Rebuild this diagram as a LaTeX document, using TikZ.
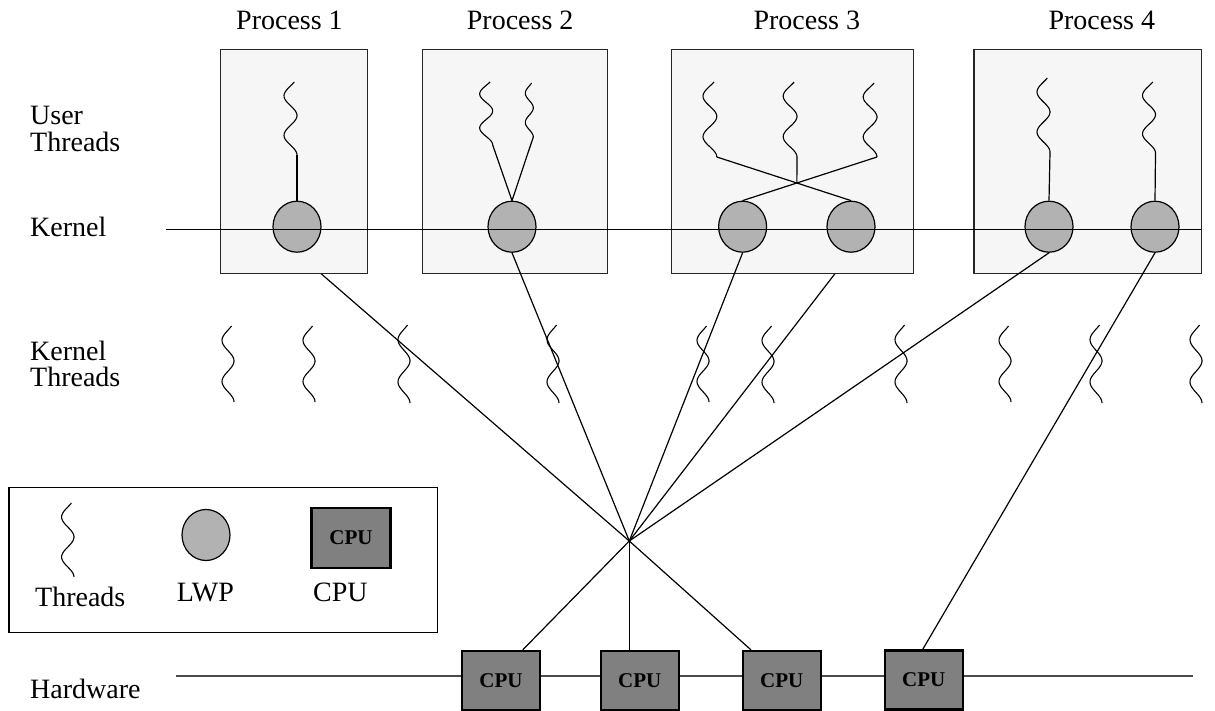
\documentclass[tikz,border=0pt]{standalone}
\usepackage{fontspec}
\setmainfont{Liberation Serif}
\usetikzlibrary{shapes.geometric,calc,intersections}
\pgfdeclarelayer{bg}
\pgfsetlayers{bg,main}
\definecolor{boxfill}{gray}{0.965}
\definecolor{lwpfill}{gray}{0.70}
\definecolor{cpufill}{gray}{0.50}
\definecolor{hwline}{gray}{0.30}
\newcommand\wthread[5]{%
  \draw[thr] plot[smooth, domain=54:720, samples=50] ({#2-#5+#5*cos(\x)},{#3+(#4-#3)*((\x-54)/666)});
  \coordinate (#1) at (#2,#4);
}
\begin{document}
\begin{tikzpicture}[x=1pt,y=-1pt,
  lbl/.style={font=\fontsize{28}{26.7}\selectfont, inner sep=0, anchor=base west, align=left},
  pbox/.style={draw=black!85, fill=boxfill, line width=1.3, inner sep=0, anchor=north west},
  lwp/.style={ellipse, draw, fill=lwpfill, line width=1.2, minimum width=48, minimum height=51, inner sep=0},
  cpu/.style={draw, line width=2.2, fill=cpufill, minimum width=78, minimum height=59, inner sep=0, font=\fontsize{21}{21}\selectfont\bfseries},
  conn/.style={line width=1.2},
  thr/.style={line width=1.1},
  legbox/.style={draw, line width=1.2, inner sep=0, anchor=north west}
]
\useasboundingbox (0,0) rectangle (1215,711);

% labels (multi-line: anchor is the baseline of the last line)
\node[lbl] (lu) at (30,151.7) {User\\Threads};
\node[lbl] (lk) at (30,236.7) {Kernel};
\node[lbl] (lkt) at (30,386.7) {Kernel\\Threads};
\node[lbl] (lh) at (30,698) {Hardware};

\node[lbl] (pl1) at (236,30) {Process 1};
\node[lbl] (pl2) at (466.7,30) {Process 2};
\node[lbl] (pl3) at (753.3,30) {Process 3};
\node[lbl] (pl4) at (1048.3,30) {Process 4};

% process boxes
\node[pbox, minimum width=146.7, minimum height=224] (p1) at (220,49) {};
\node[pbox, minimum width=185, minimum height=224] (p2) at (421.7,49) {};
\node[pbox, minimum width=242.3, minimum height=224] (p3) at (670.7,49) {};
\node[pbox, minimum width=227.7, minimum height=224] (p4) at (973.3,49) {};

% LWPs
\node[lwp] (l1) at (297,226.7) {};
\node[lwp] (l2) at (512,226.7) {};
\node[lwp] (l3a) at (742.6,226.7) {};
\node[lwp] (l3b) at (851,226.7) {};
\node[lwp] (l4a) at (1049,226.7) {};
\node[lwp] (l4b) at (1155,226.7) {};

% kernel line
\coordinate (kL) at (165.7,229.3);
\coordinate (kR) at (1201,229.3);
\draw[conn] (kL) -- (kR);

% user threads
\wthread{t1}{297}{82}{155}{6.5}
\wthread{t2a}{492.7}{82}{145}{6.5}
\wthread{t2b}{533.3}{83}{137}{4}
\wthread{t3a}{716.8}{82}{157}{6.9}
\wthread{t3b}{797}{82}{157}{6.9}
\wthread{t3c}{877}{83}{157}{6.9}
\wthread{t4a}{1050}{78}{152}{6.5}
\wthread{t4b}{1155.5}{82}{153}{6.5}

\draw[conn] (t1) -- (l1.north);
\draw[conn] (t2a) -- (l2.north);
\draw[conn] (t2b) -- (l2.north);
\draw[conn, name path=xa] (t3a) -- (l3b.north);
\draw[conn, name path=xb] (t3c) -- (l3a.north);
\path[name intersections={of=xa and xb, by=x3}];
\draw[conn] (t3b) -- (x3);
\draw[conn] (t4a) -- (l4a.north);
\draw[conn] (t4b) -- (l4b.north);

% hub
\coordinate (hub) at (629.3,541);
\fill (hub) circle (1.5);

\begin{pgfonlayer}{bg}
\draw[conn] (l1.south) -- (hub);
\draw[conn] (l3b.south) -- (hub);
\coordinate (hwL) at (175.7,676);
\coordinate (hwR) at (1193,676);
\draw[line width=2, hwline] (hwL) -- (hwR);
\end{pgfonlayer}

\draw[conn] (l2.south) -- (hub);
\draw[conn] (l3a.south) -- (hub);
\draw[conn] (l4a.south) -- (hub);

% kernel threads
\wthread{k1}{234}{326}{402}{6}
\wthread{k2}{315}{326}{402}{6}
\wthread{k3}{410}{325}{403}{6}
\wthread{k4}{559}{325}{403}{6}
\wthread{k5}{709}{326}{402}{6}
\wthread{k6}{774}{326}{403}{6}
\wthread{k7}{907}{325}{403}{6}
\wthread{k8}{1011}{326}{402}{6}
\wthread{k9}{1102}{325}{403}{6}
\wthread{k10}{1202}{325}{403}{6}

% CPUs
\node[cpu] (cpu1) at (501,680.5) {CPU};
\node[cpu] (cpu2) at (639.7,680.5) {CPU};
\node[cpu] (cpu3) at (781.7,680.5) {CPU};
\node[cpu] (cpu4) at (923.7,680) {CPU};
\coordinate (c1in) at ([xshift=21.7]cpu1.north);
\coordinate (c2in) at ([xshift=-10.4]cpu2.north);
\coordinate (c3in) at ([xshift=-30.7]cpu3.north);
\coordinate (c4in) at ([xshift=-1]cpu4.north);
\draw[conn] (hub) -- (c1in);
\draw[conn] (hub) -- (c2in);
\draw[conn] (hub) -- (c3in);
\draw[conn] (l4b.south) -- (c4in);

% legend
\node[legbox, minimum width=428.7, minimum height=145] (leg) at (8.3,486.7) {};
\wthread{lt}{74}{503}{577}{6.2}
\node[lwp] (llwp) at (206,535) {};
\node[cpu, minimum width=79, minimum height=60] (lcpu) at (351,538) {CPU};
\node[lbl] (ltt) at (35,606.7) {Threads};
\node[lbl] (ltl) at (176.7,601.7) {LWP};
\node[lbl] (ltc) at (313,601.7) {CPU};
\end{tikzpicture}
\end{document}
